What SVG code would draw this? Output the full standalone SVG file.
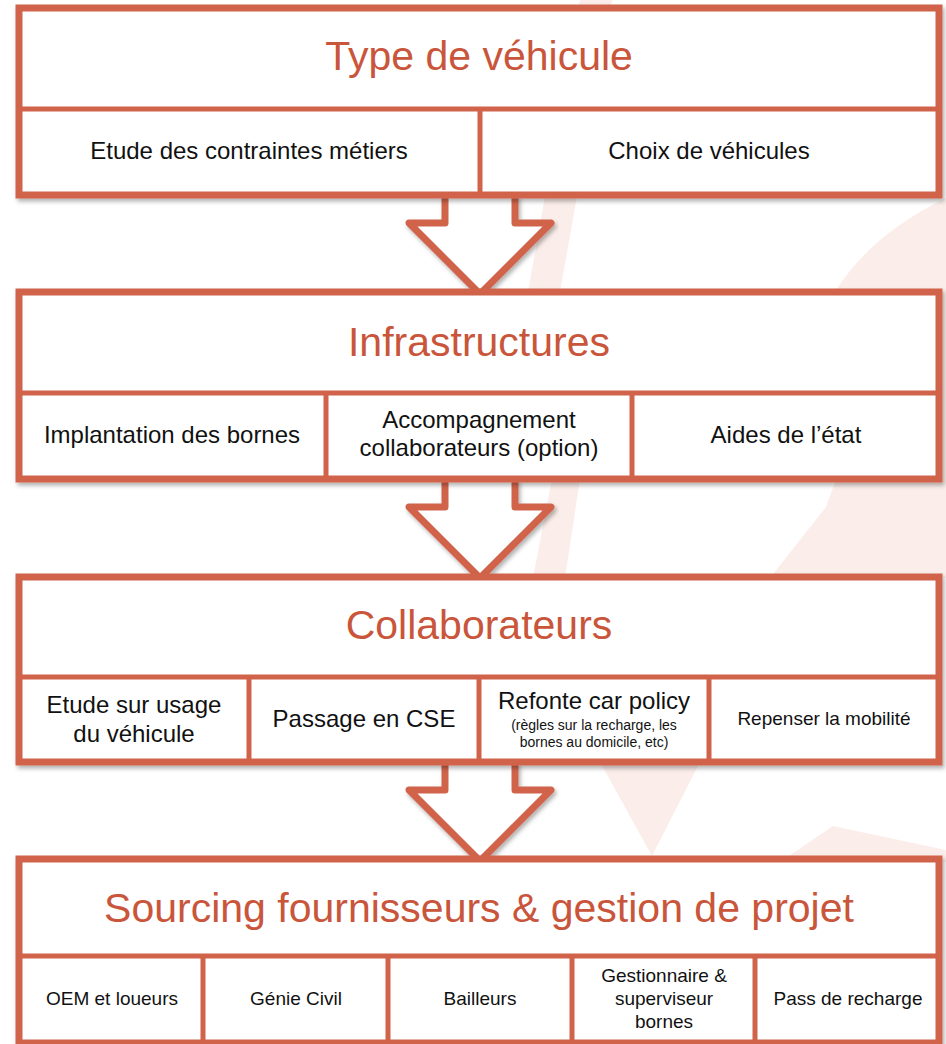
<svg xmlns="http://www.w3.org/2000/svg" width="946" height="1044" viewBox="0 0 946 1044">
  <defs>
    <filter id="shadow" x="-5%" y="-5%" width="110%" height="115%">
      <feDropShadow dx="2" dy="3" stdDeviation="2" flood-color="#000" flood-opacity="0.3"/>
    </filter>
    <style>
      .frame { fill: #ffffff; stroke: #D0634A; stroke-width: 7; }
      .div { stroke: #D0634A; stroke-width: 5; fill: none; }
      .arrow { fill: #ffffff; stroke: #D0634A; stroke-width: 7; stroke-linejoin: round; }
      .title { font-family: "Liberation Sans", Arial, sans-serif; font-size: 41px; fill: #C9553B; text-anchor: middle; }
      .sub { font-family: "Liberation Sans", Arial, sans-serif; font-size: 24px; fill: #111111; text-anchor: middle; }
      .sub19 { font-family: "Liberation Sans", Arial, sans-serif; font-size: 19px; fill: #111111; text-anchor: middle; }
      .sub14 { font-family: "Liberation Sans", Arial, sans-serif; font-size: 14px; fill: #111111; text-anchor: middle; }
      .wm { fill: #FBEEEA; }
    </style>
  </defs>
  <rect width="946" height="1044" fill="#ffffff"/>
  <g id="watermark">
    <path class="wm" d="M580,0 L612,0 L560,292 L528,292 Z"/>
    <path class="wm" d="M946,198 L946,292 L835,292 Q870,235 946,198 Z"/>
    <path class="wm" d="M552,479 L580,479 L565,578 L533,578 Z"/>
    <path class="wm" d="M905,292 L946,292 L946,578 L770,578 L826,507 Z"/>
    <path class="wm" d="M600,762 L700,762 L652,856 Z"/>
    <path class="wm" d="M780,862 L833,826 L946,850 L946,862 Z"/>
  </g>
  <g id="connectors">
    <path class="arrow" filter="url(#shadow)" d="M445,195 V223 H409 L480,294 L551,223 H515 V195"/>
    <path class="arrow" filter="url(#shadow)" d="M445,479 V507 H409 L480,578 L551,507 H515 V479"/>
    <path class="arrow" filter="url(#shadow)" d="M445,762 V790 H409 L480,861 L551,790 H515 V762"/>
  </g>
  <g id="node-type-vehicule">
    <rect class="frame" filter="url(#shadow)" x="19" y="8" width="920" height="187"/>
    <line class="div" x1="19" y1="109" x2="939" y2="109"/>
    <line class="div" x1="480" y1="109" x2="480" y2="195"/>
    <text class="title" x="479" y="70">Type de véhicule</text>
    <text class="sub" x="249" y="159">Etude des contraintes métiers</text>
    <text class="sub" x="709" y="159">Choix de véhicules</text>
  </g>
  <g id="node-infrastructures">
    <rect class="frame" filter="url(#shadow)" x="19" y="292" width="920" height="187"/>
    <line class="div" x1="19" y1="393" x2="939" y2="393"/>
    <line class="div" x1="326" y1="393" x2="326" y2="479"/>
    <line class="div" x1="632" y1="393" x2="632" y2="479"/>
    <text class="title" x="479" y="356">Infrastructures</text>
    <text class="sub" x="172" y="443">Implantation des bornes</text>
    <text class="sub" x="479" y="428">Accompagnement</text>
    <text class="sub" x="479" y="456">collaborateurs (option)</text>
    <text class="sub" x="786" y="443">Aides de l’état</text>
  </g>
  <g id="node-collaborateurs">
    <rect class="frame" filter="url(#shadow)" x="19" y="577" width="920" height="185"/>
    <line class="div" x1="19" y1="677" x2="939" y2="677"/>
    <line class="div" x1="249" y1="677" x2="249" y2="762"/>
    <line class="div" x1="479" y1="677" x2="479" y2="762"/>
    <line class="div" x1="709" y1="677" x2="709" y2="762"/>
    <text class="title" x="479" y="639">Collaborateurs</text>
    <text class="sub" x="134" y="713">Etude sur usage</text>
    <text class="sub" x="134" y="742">du véhicule</text>
    <text class="sub" x="364" y="727">Passage en CSE</text>
    <text class="sub" x="594" y="709">Refonte car policy</text>
    <text class="sub14" x="594" y="730">(règles sur la recharge, les</text>
    <text class="sub14" x="594" y="747">bornes au domicile, etc)</text>
    <text class="sub19" x="824" y="725">Repenser la mobilité</text>
  </g>
  <g id="node-sourcing">
    <rect class="frame" filter="url(#shadow)" x="19" y="859" width="920" height="184"/>
    <line class="div" x1="19" y1="956" x2="939" y2="956"/>
    <line class="div" x1="203" y1="956" x2="203" y2="1043"/>
    <line class="div" x1="388" y1="956" x2="388" y2="1043"/>
    <line class="div" x1="572" y1="956" x2="572" y2="1043"/>
    <line class="div" x1="755" y1="956" x2="755" y2="1043"/>
    <text class="title" x="479" y="922">Sourcing fournisseurs &amp; gestion de projet</text>
    <text class="sub19" x="112" y="1005">OEM et loueurs</text>
    <text class="sub19" x="296" y="1005">Génie Civil</text>
    <text class="sub19" x="480" y="1005">Bailleurs</text>
    <text class="sub19" x="664" y="982">Gestionnaire &amp;</text>
    <text class="sub19" x="664" y="1005">superviseur</text>
    <text class="sub19" x="664" y="1028">bornes</text>
    <text class="sub19" x="848" y="1005">Pass de recharge</text>
  </g>
</svg>
